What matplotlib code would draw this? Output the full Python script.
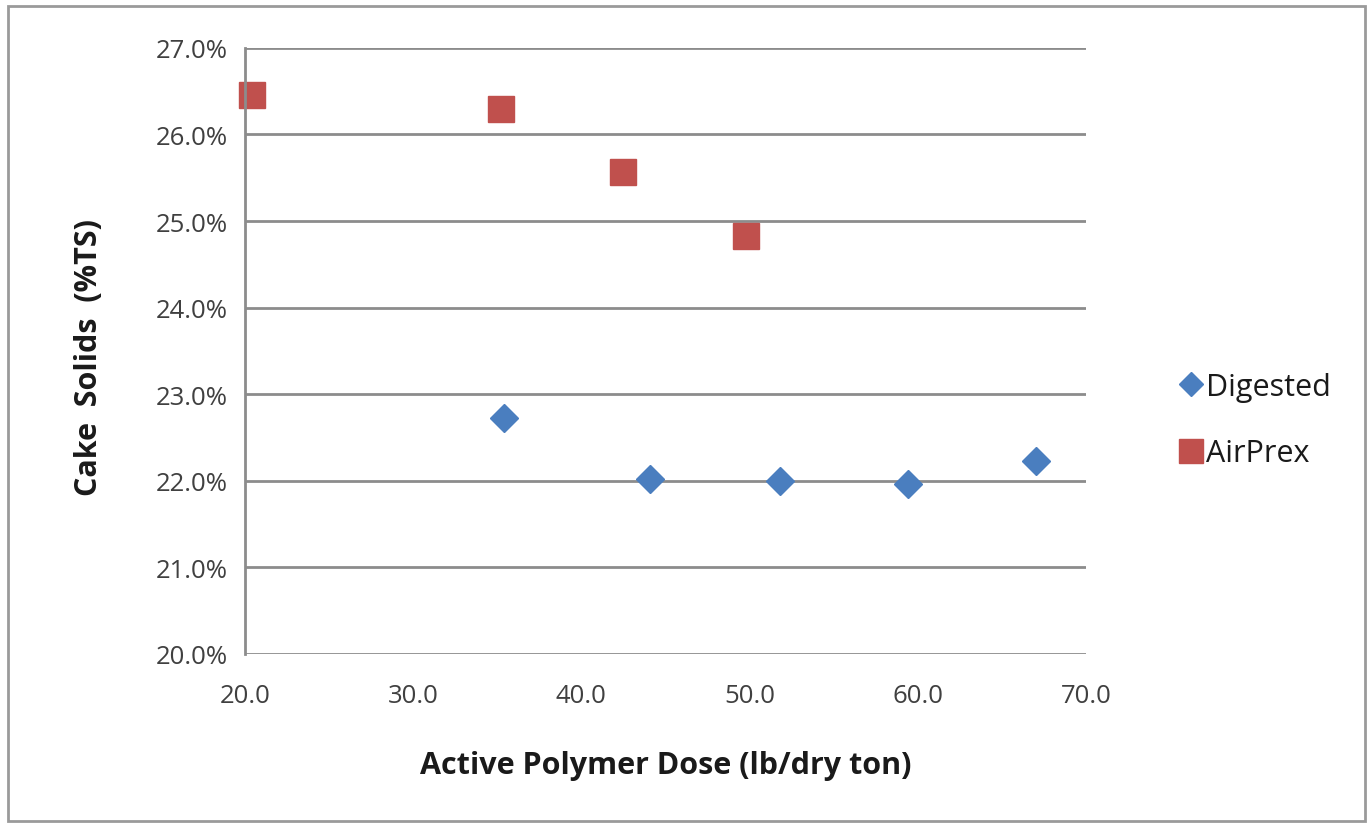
import matplotlib.pyplot as plt
from matplotlib.patches import Rectangle
from matplotlib.ticker import FuncFormatter

# ---- Data ----
digested_dose = [35.4, 44.1, 51.8, 59.4, 67.0]
digested_solids = [22.73, 22.02, 22.00, 21.96, 22.23]

airprex_dose = [20.4, 35.2, 42.5, 49.8]
airprex_solids = [26.46, 26.30, 25.57, 24.83]

x_ticks = [20, 30, 40, 50, 60, 70]
y_ticks = [20, 21, 22, 23, 24, 25, 26, 27]

BLUE = "#4A7EBF"
RED = "#C0504D"
GRID = "#8C8C8C"

plt.rcParams["font.family"] = ["Open Sans", "DejaVu Sans"]

fig = plt.figure(figsize=(13.68, 8.29), dpi=100)
ax = fig.add_axes([0.179, 0.210, 0.615, 0.731])

ax.plot(digested_dose, digested_solids, linestyle="none", marker="D",
        markersize=14, color=BLUE, label="Digested", clip_on=False)
ax.plot(airprex_dose, airprex_solids, linestyle="none", marker="s",
        markersize=19, color=RED, label="AirPrex", clip_on=False)

ax.set_xlim(20, 70)
ax.set_ylim(20, 27)
ax.set_xticks(x_ticks)
ax.set_yticks(y_ticks)
ax.xaxis.set_major_formatter(FuncFormatter(lambda v, p: f"{v:.1f}"))
ax.yaxis.set_major_formatter(FuncFormatter(lambda v, p: f"{v:.1f}%"))
ax.tick_params(length=0, labelsize=18.5, colors="#404040")
ax.tick_params(axis="y", pad=12)
ax.tick_params(axis="x", pad=21)

# gridlines (Excel style)
ax.grid(True, axis="y", color=GRID, linewidth=2)
ax.set_axisbelow(True)
for side in ["top", "right", "bottom"]:
    ax.spines[side].set_visible(False)
ax.spines["left"].set_color(GRID)
ax.spines["left"].set_linewidth(2)

ax.set_xlabel("Active Polymer Dose (lb/dry ton)", fontsize=22,
              fontweight="bold", color="#1A1A1A")
ax.set_ylabel("Cake  Solids  (%TS)", fontsize=22, fontweight="bold",
              color="#1A1A1A")
ax.xaxis.set_label_coords(0.5, -0.158)
ax.yaxis.set_label_coords(-0.168, 0.49)

leg = ax.legend(loc="center left", bbox_to_anchor=(1.092, 0.386), frameon=False,
                fontsize=22, handletextpad=0.1, handlelength=0.8, borderpad=0,
                labelspacing=1.2, markerscale=0.9)
for t in leg.get_texts():
    t.set_color("#1A1A1A")

# outer chart border
fig.patches.append(Rectangle((0.006, 0.008), 0.992, 0.983, transform=fig.transFigure,
                             fill=False, edgecolor="#9A9A9A", linewidth=2))

fig.savefig("out.png", dpi=100)
